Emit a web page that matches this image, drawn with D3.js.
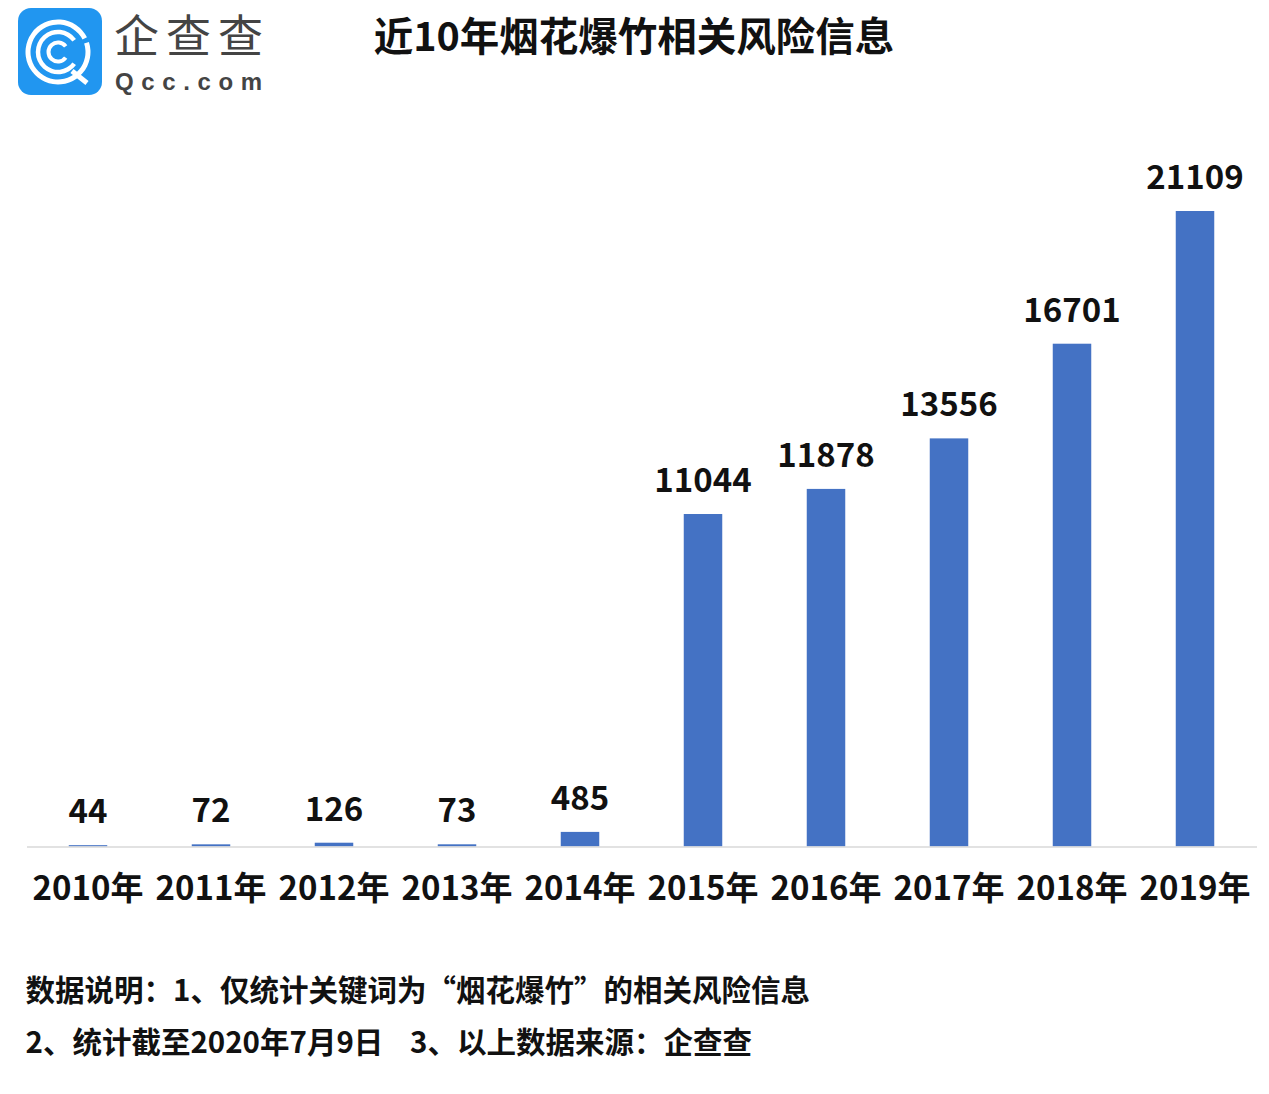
<!DOCTYPE html>
<html>
<head>
<meta charset="utf-8">
<script src="https://cdn.jsdelivr.net/npm/d3@7"></script>
<style>
  html, body { margin: 0; padding: 0; background: #fff; }
  svg { display: block; }
  text { font-family: "Noto Sans CJK SC", "Noto Sans", sans-serif; fill: #111; }
</style>
</head>
<body>
<svg id="chart" width="1269" height="1094"></svg>
<script>
const years = ['2010年', '2011年', '2012年', '2013年', '2014年', '2015年', '2016年', '2017年', '2018年', '2019年'];
const values = [44, 72, 126, 73, 485, 11044, 11878, 13556, 16701, 21109];
const chartTitle = '近10年烟花爆竹相关风险信息';
const notes = ['数据说明：1、仅统计关键词为“烟花爆竹”的相关风险信息', '2、统计截至2020年7月9日    3、以上数据来源：企查查'];

const svg = d3.select('#chart');
const baseY = 846.5;

const x = d3.scaleBand().domain(years).range([26.5, 1256.5]).paddingInner(0.687).paddingOuter(0.3435);
const y = d3.scaleLinear().domain([0, 21109]).range([baseY, 211]);

// Bars
svg.append('g')
  .selectAll('rect')
  .data(values)
  .enter()
  .append('rect')
  .attr('x', (d, i) => x(years[i]))
  .attr('y', d => y(d))
  .attr('width', x.bandwidth())
  .attr('height', d => baseY - y(d))
  .attr('fill', '#4472c4');

// Value labels
svg.append('g')
  .selectAll('text')
  .data(values)
  .enter()
  .append('text')
  .attr('x', (d, i) => x(years[i]) + x.bandwidth() / 2)
  .attr('y', d => y(d) - 22)
  .attr('text-anchor', 'middle')
  .attr('font-size', 33)
  .attr('font-weight', 700)
  .text(d => d);

// X axis
const axis = svg.append('g')
  .attr('transform', `translate(0,${baseY})`)
  .call(d3.axisBottom(x).tickSize(0).tickPadding(30));
axis.select('.domain').attr('stroke', '#d9d9d9').attr('stroke-width', 1.5);
axis.selectAll('text')
  .attr('font-size', 33)
  .attr('font-weight', 700)
  .style('font-family', '"Noto Sans CJK SC", sans-serif');

// Title
svg.append('text')
  .attr('x', 634)
  .attr('y', 51)
  .attr('text-anchor', 'middle')
  .attr('font-size', 39.5)
  .attr('font-weight', 700)
  .text(chartTitle);

// Notes
svg.append('g')
  .selectAll('text')
  .data(notes)
  .enter()
  .append('text')
  .attr('x', 25.5)
  .attr('y', (d, i) => 1001 + i * 52)
  .attr('font-size', 29.5)
  .attr('font-weight', 700)
  .style('white-space', 'pre')
  .text(d => d);

// Logo
const logo = svg.append('g');
logo.append('rect')
  .attr('x', 18).attr('y', 8)
  .attr('width', 84).attr('height', 87)
  .attr('rx', 13)
  .attr('fill', '#2196f0');
const arc = d3.arc();
[[30, 5], [20, 4.5], [9.5, 4]].forEach(([r, w]) => {
  logo.append('path')
    .attr('transform', 'translate(58,52)')
    .attr('d', arc({
      innerRadius: r - w / 2,
      outerRadius: r + w / 2,
      startAngle: r === 30 ? 0.4 * Math.PI : 0.7 * Math.PI,
      endAngle: r === 30 ? 2.35 * Math.PI : 2.3 * Math.PI
    }))
    .attr('fill', '#fff');
});
logo.append('line')
  .attr('x1', 72).attr('y1', 71).attr('x2', 87).attr('y2', 83)
  .attr('stroke', '#fff').attr('stroke-width', 5);
logo.append('text')
  .attr('x', 114).attr('y', 53)
  .attr('font-size', 45)
  .attr('font-weight', 400)
  .attr('textLength', 149)
  .style('fill', '#444')
  .text('企查查');
logo.append('text')
  .attr('x', 115).attr('y', 90)
  .attr('font-size', 24)
  .attr('font-weight', 700)
  .attr('textLength', 147)
  .style('fill', '#444')
  .style('font-family', '"Liberation Sans", sans-serif')
  .text('Qcc.com');
</script>
</body>
</html>
